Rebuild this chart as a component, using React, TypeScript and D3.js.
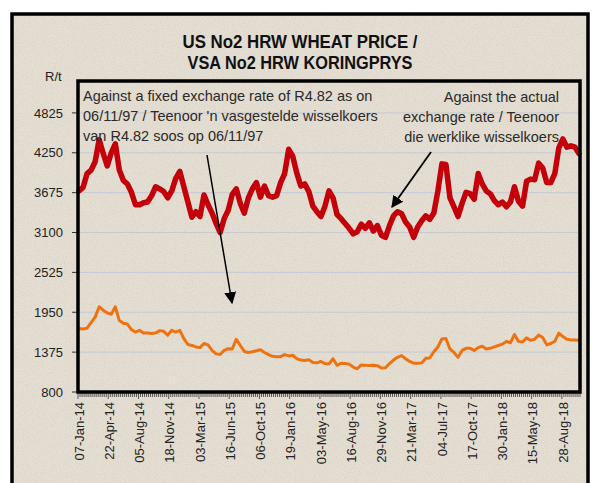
import React from "react";
import * as d3 from "d3";

const tickLabels = [
  "07-Jan-14", "22-Apr-14", "05-Aug-14", "18-Nov-14", "03-Mar-15", "16-Jun-15",
  "06-Oct-15", "19-Jan-16", "03-May-16", "16-Aug-16", "29-Nov-16", "21-Mar-17",
  "04-Jul-17", "17-Oct-17", "30-Jan-18", "15-May-18", "28-Aug-18",
];
const tickEvery = 15;
const categoryCount = 249;
const sampleStep = 2;

const yTicks = [800, 1375, 1950, 2525, 3100, 3675, 4250, 4825];

// Against the actual exchange rate (R/t), sampled every 2 weeks
const actualRate = [
  3700, 3750, 3950, 4000, 4120, 4440, 4240, 4060, 4250, 4380,
  4000, 3850, 3800, 3680, 3500, 3500, 3530, 3540, 3630, 3760,
  3730, 3690, 3600, 3700, 3880, 3980, 3760, 3540, 3320, 3400,
  3330, 3640, 3500, 3380, 3230, 3100, 3300, 3420, 3650, 3730,
  3520, 3380, 3600, 3730, 3820, 3610, 3770, 3630, 3610, 3630,
  3820, 3950, 4300, 4200, 3960, 3770, 3800, 3690, 3480, 3400,
  3330, 3480, 3700, 3600, 3360, 3300, 3230, 3160, 3080, 3110,
  3220, 3160, 3240, 3120, 3200, 3060, 3030, 3200, 3340, 3400,
  3370, 3250, 3180, 3030, 3180, 3270, 3340, 3290, 3380, 3700,
  4090, 4080, 3600, 3470, 3330, 3520, 3680, 3660, 3580, 3950,
  3800, 3700, 3660, 3560, 3500, 3540, 3470, 3540, 3760, 3550,
  3480, 3840, 3870, 3860, 4100, 4030, 3820, 3820, 3950, 4320,
  4450, 4330, 4350, 4330, 4240,
];

// Against a fixed exchange rate of R4.82 (R/t), sampled every 2 weeks
const fixedRate = [
  1715, 1710, 1720, 1800, 1880, 2030, 1980, 1940, 1920, 2030,
  1830, 1790, 1780, 1700, 1665, 1690, 1650, 1650, 1645, 1650,
  1685, 1675, 1620, 1690, 1665, 1690, 1570, 1485, 1470, 1450,
  1440, 1500, 1480, 1400, 1350, 1340, 1400, 1425, 1420, 1560,
  1470, 1385, 1370, 1380, 1395, 1410, 1370, 1340, 1315, 1310,
  1310, 1340, 1320, 1330, 1280, 1260, 1255, 1264, 1225, 1220,
  1240, 1210, 1205, 1280, 1185, 1215, 1212, 1202, 1160, 1135,
  1190, 1185, 1182, 1185, 1180, 1145, 1150, 1210, 1260, 1300,
  1325, 1280, 1240, 1215, 1215, 1220, 1285, 1290, 1380, 1450,
  1565, 1570, 1420, 1370, 1300, 1400, 1430, 1430, 1400, 1440,
  1460, 1420, 1430, 1450, 1470, 1490, 1530, 1510, 1630, 1530,
  1520, 1580, 1545, 1560, 1620, 1585, 1480, 1500, 1530, 1650,
  1600, 1560, 1550, 1550, 1545,
];

const leftNote = [
  "Against a fixed  exchange rate of R4.82 as on",
  "06/11/97 / Teenoor 'n vasgestelde wisselkoers",
  "van R4.82 soos op 06/11/97",
];
const rightNote = [
  "Against the actual",
  "exchange rate / Teenoor",
  "die werklike wisselkoers",
];

const W = 595;
const H = 483;
const M = { left: 78, right: 580, top: 81, bottom: 392 };
const FONT = "'Liberation Sans Narrow', 'Arial Narrow', 'Liberation Sans', Arial, sans-serif";

export default function App() {
  const x = d3.scaleLinear().domain([0, categoryCount]).range([M.left, M.right]);
  const y = d3.scaleLinear().domain([800, 5285]).range([M.bottom, M.top]);

  const line = d3
    .line<number>()
    .x((_, i) => x(i * sampleStep + 0.5))
    .y((d) => y(d))
    .curve(d3.curveLinear);

  const catTicks = d3.range(0, categoryCount + 1);

  return (
    <svg width={W} height={H} style={{ position: "absolute", left: 0, top: 0 }}>
      <defs>
        <marker id="ah2" viewBox="0 0 10 10" refX="9" refY="5" markerWidth="12" markerHeight="12"
          markerUnits="userSpaceOnUse" orient="auto">
          <path d="M0,0 L10,5 L0,10 z" fill="#000" />
        </marker>
        <filter id="paper" x="0" y="0" width="100%" height="100%">
          <feTurbulence type="fractalNoise" baseFrequency="0.9" numOctaves="2" seed="3" result="n" />
          <feColorMatrix type="matrix" in="n"
            values="0 0 0 0 0.45  0 0 0 0 0.42  0 0 0 0 0.38  0 0 0 -2.2 1.25" />
        </filter>
      </defs>
      <rect x={0} y={0} width={W} height={H} fill="#ffffff" />
      <rect x={12} y={14} width={576} height={500} fill="#e5ded2" />
      <rect x={12} y={14} width={576} height={500} filter="url(#paper)" opacity={0.25} />
      <rect x={12} y={14} width={576} height={500} fill="none" stroke="#000" strokeWidth={3.5} />

      {/* title */}
      <text x={300} y={48} textAnchor="middle" fontFamily={FONT} fontWeight="bold" fontSize={18.5}
        textLength={235} lengthAdjust="spacingAndGlyphs" fill="#111">US No2 HRW WHEAT PRICE /</text>
      <text x={300} y={69} textAnchor="middle" fontFamily={FONT} fontWeight="bold" fontSize={18.5}
        textLength={225} lengthAdjust="spacingAndGlyphs" fill="#111">VSA No2 HRW KORINGPRYS</text>
      <text x={45} y={81} fontFamily={FONT} fontSize={13} fill="#222">R/t</text>

      {/* gridlines */}
      {yTicks.slice(1).map((t) => (
        <line key={t} x1={M.left} x2={M.right} y1={y(t)} y2={y(t)} stroke="#c5cad2" strokeWidth={1} />
      ))}

      {/* y axis labels and ticks */}
      {yTicks.map((t) => (
        <g key={t}>
          <line x1={M.left - 6} x2={M.left} y1={y(t)} y2={y(t)} stroke="#333" strokeWidth={1} />
          <text x={63} y={y(t)} dy="0.36em" textAnchor="end" fontFamily={FONT} fontSize={13} fill="#222">
            {t}
          </text>
        </g>
      ))}

      {/* series */}
      <path d={line(actualRate) || ""} fill="none" stroke="#c4000a" strokeWidth={5.5} strokeLinejoin="round" strokeLinecap="round" />
      <path d={line(fixedRate) || ""} fill="none" stroke="#ee7310" strokeWidth={3} strokeLinejoin="round" strokeLinecap="round" />

      {/* x ticks */}
      {catTicks.map((i) => (
        <line key={i} x1={x(i)} x2={x(i)} y1={M.bottom} y2={M.bottom + (i % tickEvery === 0 ? 7 : 5)}
          stroke="#333" strokeWidth={0.8} />
      ))}
      {tickLabels.map((lab, k) => {
        const cx = x(k * tickEvery + 0.5);
        return (
          <text key={lab} transform={`translate(${cx},402) rotate(-90)`} dy="0.36em" textAnchor="end"
            fontFamily={FONT} fontSize={13} fill="#222">
            {lab}
          </text>
        );
      })}

      {/* plot border */}
      <rect x={M.left} y={M.top} width={M.right - M.left} height={M.bottom - M.top} fill="none"
        stroke="#000" strokeWidth={3.5} />

      {/* annotations */}
      {leftNote.map((s, i) => (
        <text key={s} x={83} y={101 + i * 20} fontFamily={FONT} fontSize={14.5} fill="#2a2a2a">{s}</text>
      ))}
      {rightNote.map((s, i) => (
        <text key={s} x={559} y={102 + i * 20} textAnchor="end" fontFamily={FONT} fontSize={14.5} fill="#2a2a2a">{s}</text>
      ))}
      <line x1={207} y1={155} x2={232} y2={303} stroke="#000" strokeWidth={1.5} markerEnd="url(#ah2)" />
      <line x1={431} y1={152} x2={392} y2={207} stroke="#000" strokeWidth={1.8} markerEnd="url(#ah2)" />
    </svg>
  );
}
